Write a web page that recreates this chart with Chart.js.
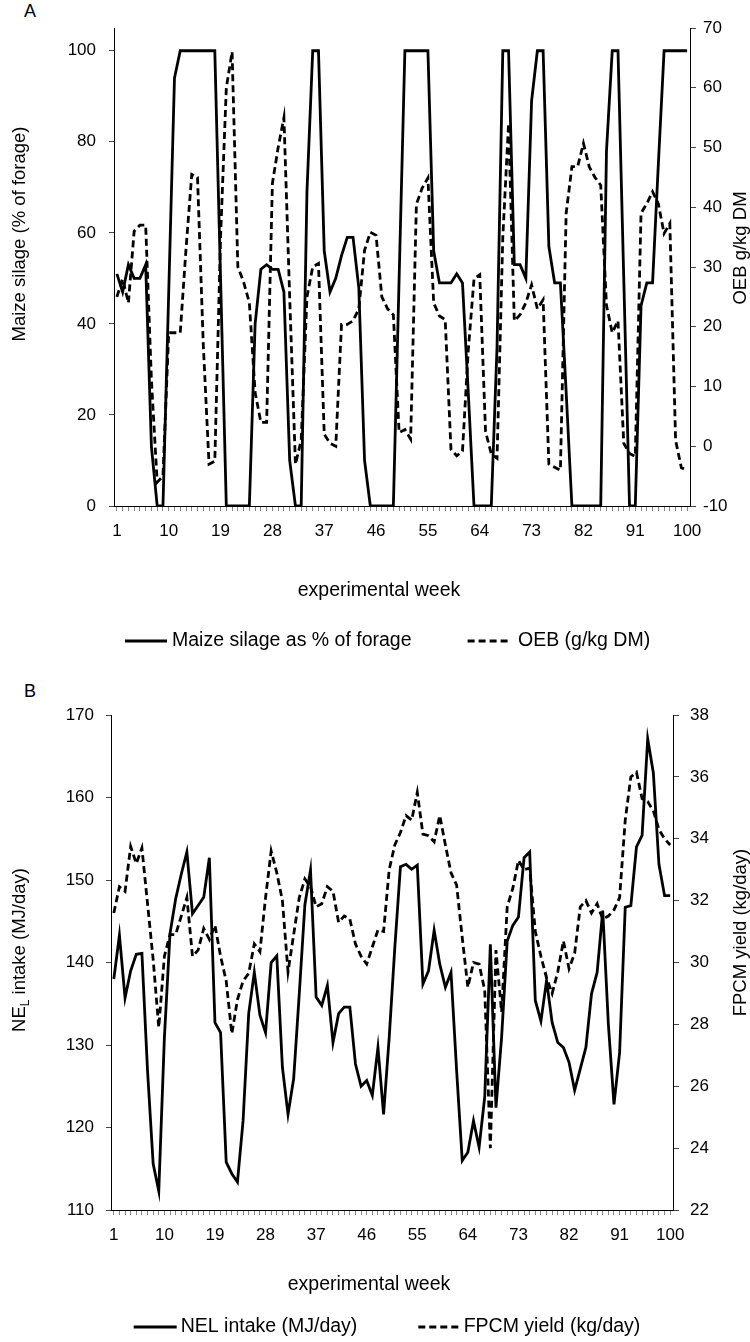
<!DOCTYPE html>
<html>
<head>
<meta charset="utf-8">
<script src="https://cdn.jsdelivr.net/npm/chart.js@4.4.0/dist/chart.umd.min.js"></script>
<style>
  body { margin: 0; background: #fff; width: 750px; height: 1342px; position: relative; overflow: hidden;
         font-family: "Liberation Sans", Arial, Helvetica, sans-serif; }
  canvas { position: absolute; left: 0; }
  .tag { position: absolute; left: 24px; font-size: 18px; color: #000; }
</style>
</head>
<body>
<div class="tag" style="top:1px">A</div>
<canvas id="chartA" width="750" height="670" style="top:0"></canvas>
<div class="tag" style="top:681px">B</div>
<canvas id="chartB" width="750" height="690" style="top:670px"></canvas>
<script>
const FONT = '"Liberation Sans", Arial, Helvetica, sans-serif';

// experimental weeks 1..100 (category axis)
const weeks = Array.from({ length: 100 }, (_, i) => i + 1);

// panel A: maize silage as % of forage (left axis)
const maizeSilage = [
  51, 47, 53, 50, 50, 53, 13, 0, 0, 47,
  94, 100, 100, 100, 100, 100, 100, 100, 50, 0,
  0, 0, 0, 0, 40, 52, 53, 52, 52, 47,
  10, 0, 0, 69, 100, 100, 56, 47, 50, 55,
  59, 59, 48, 10, 0, 0, 0, 0, 0, 50,
  100, 100, 100, 100, 100, 56, 49, 49, 49, 51,
  49, 25, 0, 0, 0, 0, 35, 100, 100, 53,
  53, 50, 89, 100, 100, 57, 49, 49, 25, 0,
  0, 0, 0, 0, 0, 78, 100, 100, 50, 0,
  0, 44, 49, 49, 75, 100, 100, 100, 100, 100
];

// panel A: OEB in g/kg DM (right axis)
const oeb = [
  25, 28, 24, 36, 37, 37, 11, -6, -5, 19,
  19, 19, 33, 45.5, 45, 17, -3, -2.5, 35, 60,
  66, 30, 27.5, 24, 9, 4, 4, 44, 50, 55,
  25, -3, 1, 25, 30, 30.6, 2, 0.5, 0, 20.4,
  20.4, 21, 23, 32.8, 35.8, 35.3, 25, 23, 22, 2.3,
  2.8, 1.2, 40.5, 43.2, 44.9, 24, 21.8, 21.2, -0.5, -1.6,
  -0.8, 16, 28, 28.7, 2.5, -1.3, -2, 35, 54, 21,
  22, 24, 27, 23, 24.5, -3, -3.5, -4, 39, 46.8,
  46.8, 50.7, 46.8, 45, 43.7, 23.6, 19, 21, 0.5, -1.2,
  -1.7, 39, 40.6, 42.6, 40.6, 35.6, 37.3, 1, -3.6, -4
];

// panel B: NEL intake in MJ/day (left axis)
const nelIntake = [
  138, 143.3, 135.7, 139, 141, 141.1, 126.9, 115.6, 112.3, 130.9,
  143.5, 147.7, 150.7, 153.4, 145.9, 146.9, 147.9, 152.7, 132.7, 131.5,
  115.8, 114.4, 113.4, 120.8, 133.8, 138.8, 133.6, 131.5, 140, 140.8,
  127.3, 121.6, 125.9, 136.2, 147, 151.2, 135.8, 134.8, 137.2, 130.3,
  133.8, 134.6, 134.6, 127.7, 125, 125.7, 123.9, 129.7, 121.6, 130.9,
  141.8, 151.6, 151.9, 151.3, 151.8, 137.4, 139, 143.9, 139.8, 137,
  138.8, 126.9, 116, 117, 120.8, 117.6, 123.7, 142.2, 122.4, 130.9,
  142.6, 144.5, 145.5, 152.7, 153.4, 135.4, 132.9, 137.8, 132.7, 130.3,
  129.7, 127.9, 124.5, 127.1, 129.7, 136.2, 138.8, 146.3, 132.5, 122.8,
  129.1, 146.7, 146.9, 154, 155.4, 167.1, 163, 151.9, 148.1, 148.1
];

// panel B: FPCM yield in kg/day (right axis)
const fpcmYield = [
  31.6, 32.45, 32.3, 33.75, 33.2, 33.7, 31.9, 30.1, 27.9, 30.2,
  30.9, 30.9, 31.5, 32.1, 30.2, 30.4, 31.1, 30.75, 31.2, 30.2,
  29.4, 27.7, 28.8, 29.4, 29.65, 30.6, 30.35, 32.1, 33.6, 32.9,
  32.0, 29.7, 30.9, 32.1, 32.7, 32.45, 31.8, 31.9, 32.45, 32.3,
  31.3, 31.5, 31.4, 30.6, 30.2, 29.95, 30.5, 31.05, 31.0, 33.0,
  33.8, 34.2, 34.75, 34.6, 35.5, 34.15, 34.1, 33.9, 34.75, 33.8,
  32.9, 32.5, 30.8, 29.2, 30.0, 29.95, 29.1, 24.0, 30.4, 28.4,
  31.8, 32.4, 33.3, 33.0, 33.05, 31.0, 30.2, 29.5, 29.0, 29.7,
  30.7, 29.8, 30.3, 31.8, 32.0, 31.6, 31.9, 31.4, 31.5, 31.7,
  32.1, 34.6, 36.0, 36.15, 35.3, 35.2, 34.9, 34.3, 34.0, 33.8
];

Chart.defaults.font.family = FONT;
Chart.defaults.font.size = 17;
Chart.defaults.color = '#000';

// axis titles (vertical ones read bottom-to-top, with optional subscript), x title and line legend
const chartTexts = {
  id: 'chartTexts',
  afterDraw(chart, args, opts) {
    const { ctx } = chart;
    ctx.save();
    ctx.fillStyle = '#000';
    ctx.textBaseline = 'middle';

    opts.sideTitles.forEach(item => {
      ctx.save();
      ctx.translate(item.x, item.y);
      ctx.rotate(-Math.PI / 2);
      const big = item.size + 'px ' + FONT;
      const small = Math.round(item.size * 0.65) + 'px ' + FONT;
      let total = 0;
      item.parts.forEach(p => { ctx.font = p.sub ? small : big; total += ctx.measureText(p.text).width; });
      let x = -total / 2;
      item.parts.forEach(p => {
        ctx.font = p.sub ? small : big;
        ctx.fillText(p.text, x, p.sub ? item.size * 0.3 : 0);
        x += ctx.measureText(p.text).width;
      });
      ctx.restore();
    });

    const t = opts.xTitle;
    ctx.font = t.size + 'px ' + FONT;
    ctx.textAlign = 'center';
    ctx.fillText(t.text, t.x, t.y);

    const lg = opts.legend;
    ctx.textAlign = 'left';
    ctx.font = lg.size + 'px ' + FONT;
    chart.data.datasets.forEach((ds, i) => {
      const it = lg.items[i];
      ctx.strokeStyle = ds.borderColor;
      ctx.lineWidth = ds.borderWidth;
      ctx.setLineDash(ds.borderDash || []);
      ctx.beginPath();
      ctx.moveTo(it.x, lg.y);
      ctx.lineTo(it.x + it.len, lg.y);
      ctx.stroke();
      ctx.setLineDash([]);
      ctx.fillText(ds.label, it.x + it.len + it.gap, lg.y);
    });
    ctx.restore();
  }
};

function weekTick(val, idx) {
  return idx % 9 === 0 ? String(weeks[idx]) : '';
}

function makeChart(id, cfg) {
  return new Chart(document.getElementById(id), {
    type: 'line',
    data: {
      labels: weeks,
      datasets: [
        { label: cfg.names[0], data: cfg.left, yAxisID: 'y', borderColor: '#000', borderWidth: 2.8,
          pointRadius: 0, tension: 0, fill: false },
        { label: cfg.names[1], data: cfg.right, yAxisID: 'y1', borderColor: '#000', borderWidth: 2.8,
          borderDash: [7, 4], pointRadius: 0, tension: 0, fill: false }
      ]
    },
    options: {
      responsive: false,
      animation: false,
      layout: { padding: { top: cfg.top, bottom: cfg.bottom, left: 0, right: 0 } },
      plugins: {
        tooltip: { enabled: false },
        legend: { display: false },
        chartTexts: cfg.texts
      },
      scales: {
        x: {
          offset: true,
          border: { display: true, color: '#000', width: 1 },
          grid: { drawOnChartArea: false, drawTicks: true, tickLength: 5, tickColor: '#888' },
          ticks: { autoSkip: false, maxRotation: 0, padding: 10, callback: weekTick },
          afterFit: s => { s.height = 40; }
        },
        y: {
          position: 'left',
          min: cfg.leftRange[0], max: cfg.leftRange[1],
          border: { display: true, color: '#000', width: 1 },
          grid: { drawOnChartArea: false, tickLength: 5, tickColor: '#444' },
          ticks: { stepSize: cfg.leftStep, padding: cfg.leftPad },
          afterBuildTicks: s => { s.ticks = s.ticks.filter(t => t.value <= cfg.leftTop); },
          afterFit: s => { s.width = cfg.leftWidth; }
        },
        y1: {
          position: 'right',
          min: cfg.rightRange[0], max: cfg.rightRange[1],
          border: { display: true, color: '#000', width: 1 },
          grid: { drawOnChartArea: false, tickLength: 6, tickColor: '#444' },
          ticks: { stepSize: cfg.rightStep, padding: cfg.rightPad },
          afterFit: s => { s.width = cfg.rightWidth; }
        }
      }
    },
    plugins: [chartTexts]
  });
}

makeChart('chartA', {
  names: ['Maize silage as % of forage', 'OEB (g/kg DM)'],
  left: maizeSilage, right: oeb,
  leftRange: [0, 105], leftStep: 20, leftTop: 100,
  rightRange: [-10, 70], rightStep: 10,
  leftWidth: 114, rightWidth: 60, leftPad: 13, rightPad: 7,
  top: 28, bottom: 124,
  texts: {
    sideTitles: [
      { x: 20, y: 234, size: 18.5, parts: [{ text: 'Maize silage (% of forage)' }] },
      { x: 741, y: 248, size: 18.5, parts: [{ text: 'OEB g/kg DM' }] }
    ],
    xTitle: { text: 'experimental week', x: 379, y: 591, size: 19.5 },
    legend: { y: 641, size: 19.5, items: [
      { x: 125, len: 42, gap: 5 },
      { x: 467.6, len: 44, gap: 6.4 }
    ] }
  }
});

makeChart('chartB', {
  names: ['NEL intake (MJ/day)', 'FPCM yield (kg/day)'],
  left: nelIntake, right: fpcmYield,
  leftRange: [110, 170], leftStep: 10, leftTop: 170,
  rightRange: [22, 38], rightStep: 2,
  leftWidth: 111, rightWidth: 77, leftPad: 12, rightPad: 11,
  top: 45, bottom: 110,
  texts: {
    sideTitles: [
      { x: 20, y: 280, size: 18.5, parts: [{ text: 'NE' }, { text: 'L', sub: true }, { text: ' intake (MJ/day)' }] },
      { x: 741, y: 262.5, size: 18.5, parts: [{ text: 'FPCM yield (kg/day)' }] }
    ],
    xTitle: { text: 'experimental week', x: 369, y: 615, size: 19.5 },
    legend: { y: 657, size: 19.5, items: [
      { x: 133.7, len: 43, gap: 4 },
      { x: 418.3, len: 44, gap: 1.4 }
    ] }
  }
});
</script>
</body>
</html>
